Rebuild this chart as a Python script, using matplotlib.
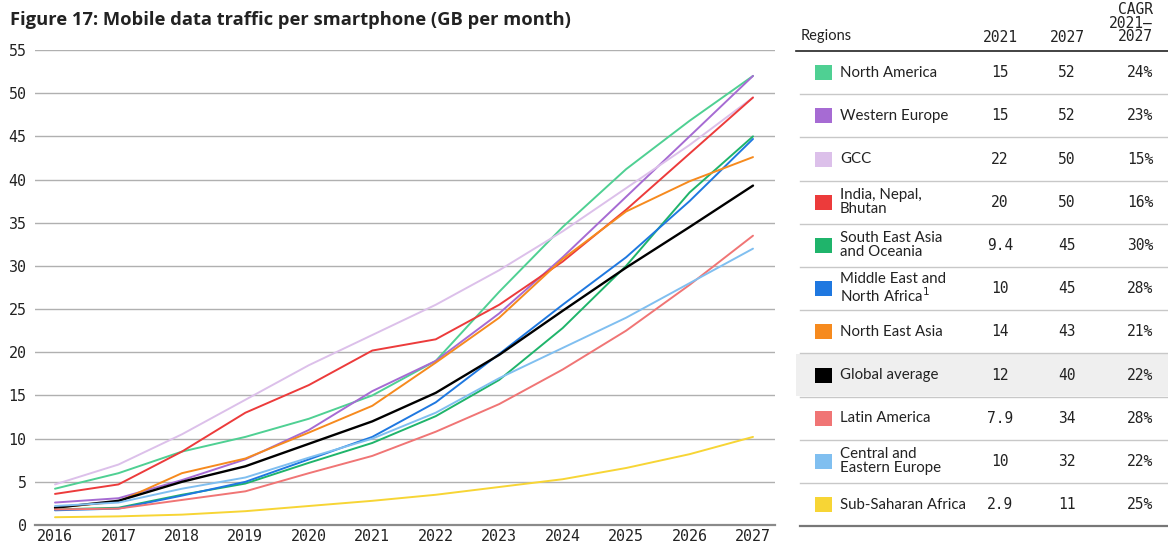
"""Mobile data traffic per smartphone, line chart plus side table."""
import numpy as np
import matplotlib
matplotlib.use("Agg")
import matplotlib.pyplot as plt

years = [2016, 2017, 2018, 2019, 2020, 2021, 2022, 2023, 2024, 2025, 2026, 2027]

regions = ['North America', 'Western Europe', 'GCC', 'India, Nepal,\nBhutan',
           'South East Asia\nand Oceania', 'Middle East and\nNorth Africa$^{1}$',
           'North East Asia', 'Global average', 'Latin America',
           'Central and\nEastern Europe', 'Sub-Saharan Africa']
colors = ['#4fd093', '#a66bd3', '#dcc0ea', '#ec3b3b', '#1fb46b', '#1f78e0',
          '#f68a1e', '#000000', '#f07575', '#80bff0', '#f7d535']

north_america = [4.2, 6.0, 8.5, 10.2, 12.3, 15.0, 19.0, 27.0, 34.5, 41.2, 46.8, 52.0]
western_europe = [2.6, 3.1, 5.2, 7.6, 11.0, 15.5, 19.0, 24.5, 31.0, 38.0, 45.0, 52.0]
gcc = [4.7, 7.0, 10.5, 14.5, 18.5, 22.0, 25.5, 29.5, 34.0, 39.0, 44.0, 49.5]
india = [3.6, 4.7, 8.5, 13.0, 16.2, 20.2, 21.5, 25.5, 30.5, 36.5, 43.0, 49.5]
sea = [1.8, 2.0, 3.5, 4.8, 7.2, 9.5, 12.6, 16.8, 22.8, 30.0, 38.5, 45.0]
mena = [1.7, 1.9, 3.4, 5.0, 7.6, 10.2, 14.2, 19.8, 25.5, 31.0, 37.5, 44.7]
nea = [2.0, 2.7, 6.0, 7.7, 10.7, 13.8, 18.8, 24.0, 30.8, 36.3, 39.8, 42.6]
global_avg = [2.0, 2.8, 5.0, 6.8, 9.4, 12.0, 15.3, 19.7, 24.8, 29.8, 34.5, 39.3]
latin_america = [1.8, 1.9, 2.9, 3.9, 6.0, 8.0, 10.8, 14.0, 18.0, 22.5, 27.8, 33.5]
cee = [2.2, 2.6, 4.2, 5.5, 7.8, 10.0, 13.0, 17.0, 20.5, 24.0, 28.0, 32.0]
ssa = [0.9, 1.0, 1.2, 1.6, 2.2, 2.8, 3.5, 4.4, 5.3, 6.6, 8.2, 10.2]

series = [north_america, western_europe, gcc, india, sea, mena, nea,
          global_avg, latin_america, cee, ssa]

val_2021 = ['15', '15', '22', '20', '9.4', '10', '14', '12', '7.9', '10', '2.9']
val_2027 = ['52', '52', '50', '50', '45', '45', '43', '40', '34', '32', '11']
cagr = ['24%', '23%', '15%', '16%', '30%', '28%', '21%', '22%', '28%', '22%', '25%']

W, H = 1168, 544
fig = plt.figure(figsize=(W / 100, H / 100), dpi=100)
mono = 'DejaVu Sans Mono'
sans = 'Lato'
ink = '#222222'

# --- line chart ---
ax = fig.add_axes([35 / W, 1 - 525 / H, 740 / W, 475 / H])
draw_order = [10, 9, 8, 2, 0, 1, 3, 6, 4, 5, 7]
for i in draw_order:
    lw = 1.7 if i == 7 else 1.4
    ax.plot(years, series[i], color=colors[i], lw=lw, zorder=3 + i * 0.01,
            solid_capstyle='round')

ax.set_xlim(2016 - 20 / 63.45, 2027 + 22 / 63.45)
ax.set_ylim(0, 55)
ax.set_yticks(np.arange(0, 56, 5))
ax.set_xticks(years)
ax.grid(axis='y', color='#b0b0b0', lw=1.0)
ax.set_axisbelow(True)
for s in ['top', 'right', 'left']:
    ax.spines[s].set_visible(False)
ax.spines['bottom'].set_color('#8a8a8a')
ax.spines['bottom'].set_linewidth(1.6)
ax.tick_params(length=0, labelsize=10.8, colors=ink)
ax.tick_params(axis='y', pad=6)
ax.tick_params(axis='x', pad=3)
for lab in ax.get_xticklabels() + ax.get_yticklabels():
    lab.set_family(mono)

fig.text(10 / W, 1 - 20 / H, 'Figure 17: Mobile data traffic per smartphone (GB per month)',
         fontsize=13.2, fontweight='bold', family='Open Sans', va='center', ha='left',
         color=ink)

# --- side table, drawn in pixel coordinates ---
tb = fig.add_axes([0, 0, 1, 1])
tb.set_xlim(0, W)
tb.set_ylim(H, 0)
tb.axis('off')

x0, x1 = 796, 1168
c2021, c2027, rcagr = 1000, 1067, 1153
tb.text(801, 36, 'Regions', fontsize=10.5, family=sans, va='center', color=ink)
tb.text(c2021, 37, '2021', fontsize=10.5, family=mono, va='center', ha='center', color=ink)
tb.text(c2027, 37, '2027', fontsize=10.5, family=mono, va='center', ha='center', color=ink)
tb.text(rcagr, 23, 'CAGR\n2021\u2013\n2027', fontsize=10.5, family=mono, va='center',
        ha='right', linespacing=0.85, color=ink)
tb.plot([x0, x1], [50.5, 50.5], color=ink, lw=1.2)

row_h = 43.2
top = 51
for k, name in enumerate(regions):
    yc = top + row_h * (k + 0.5)
    if k == 7:
        tb.add_patch(plt.Rectangle((x0, top + row_h * k + 1), x1 - x0, row_h - 2,
                                   color='#efefef', lw=0, zorder=0))
    tb.add_patch(plt.Rectangle((815, yc - 7.5), 17, 15, color=colors[k], lw=0, zorder=2))
    tb.text(840, yc, name, fontsize=10.8, family=sans, va='center', ha='left',
            linespacing=1.0, color=ink)
    tb.text(c2021, yc, val_2021[k], fontsize=10.5, family=mono, va='center', ha='center', color=ink)
    tb.text(c2027, yc, val_2027[k], fontsize=10.5, family=mono, va='center', ha='center', color=ink)
    tb.text(rcagr, yc, cagr[k], fontsize=10.5, family=mono, va='center', ha='right', color=ink)
    yl = top + row_h * (k + 1)
    last = k == len(regions) - 1
    tb.plot([x0 + 4, x1], [yl, yl], color='#777777' if last else '#c8c8c8',
            lw=1.6 if last else 1.0, zorder=1)

fig.savefig('out.png', dpi=100, facecolor='white')
